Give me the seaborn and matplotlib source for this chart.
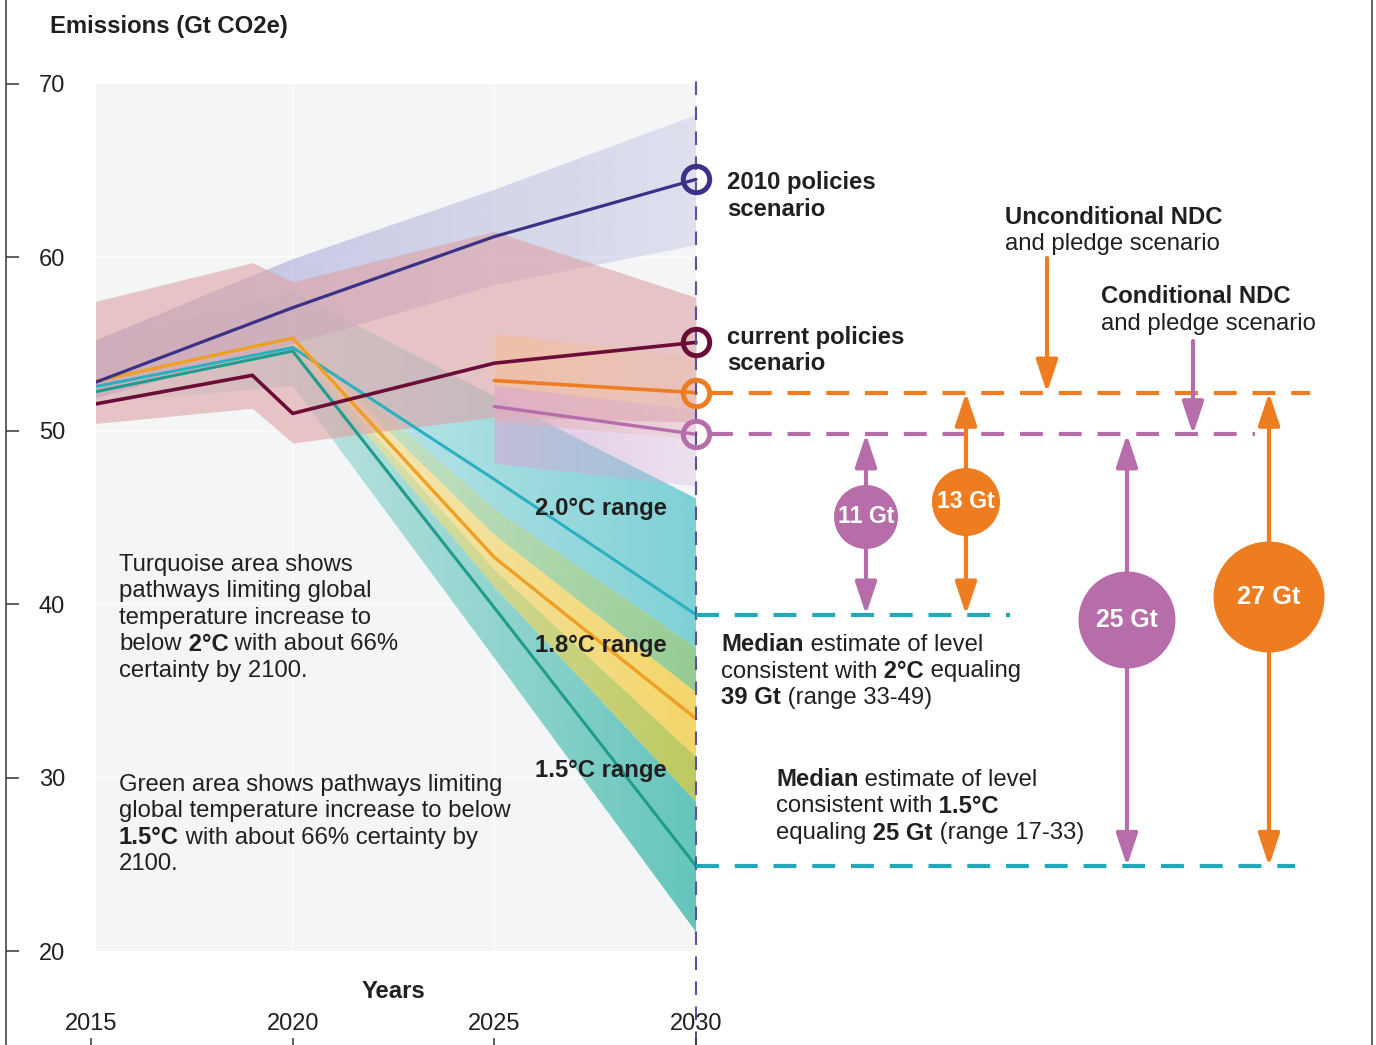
import numpy as np
import matplotlib
matplotlib.use("Agg")
import matplotlib.pyplot as plt
import seaborn as sns
from matplotlib import font_manager
from matplotlib.colors import to_rgb

# ---- data (Gt CO2e) ----
years = [2015, 2020, 2025, 2030]
policies_2010 = [52.7, 57.1, 61.2, 64.5]
policies_2010_lo = [51.8, 55.0, 58.4, 60.7]
policies_2010_hi = [55.1, 59.9, 63.9, 68.2]

current_years = [2015, 2019, 2020, 2025, 2030]
current_policies = [51.5, 53.2, 51.0, 53.9, 55.1]
current_lo = [50.4, 51.3, 49.3, 50.8, 50.5]
current_hi = [57.4, 59.7, 58.6, 61.5, 57.7]

ndc_years = [2025, 2030]
ndc_unconditional = [52.9, 52.2]
ndc_unconditional_lo = [50.5, 49.5]
ndc_unconditional_hi = [55.6, 54.2]
ndc_conditional = [51.4, 49.8]
ndc_conditional_lo = [48.1, 46.8]
ndc_conditional_hi = [52.6, 51.2]

median_2c = [52.5, 54.8, 47.2, 39.4]
median_18c = [52.8, 55.35, 42.7, 33.4]
median_15c = [52.2, 54.6, 39.8, 24.9]

# edges of the temperature ranges, top to bottom
edge_2c_top = [55.0, 58.0, 52.0, 46.1]
edge_2c_green = [53.2, 55.6, 45.5, 37.5]
edge_green_yellow = [53.0, 55.4, 44.0, 34.9]
edge_yellow_olive = [52.8, 55.1, 42.0, 31.2]
edge_olive_teal = [52.6, 54.9, 41.0, 28.6]
edge_15_bottom = [51.5, 52.6, 36.9, 21.1]

gap_labels = ["11 Gt", "13 Gt", "25 Gt", "27 Gt"]
gap_from = [ndc_conditional[-1], ndc_unconditional[-1], ndc_conditional[-1], ndc_unconditional[-1]]
gap_to = [median_2c[-1], median_2c[-1], median_15c[-1], median_15c[-1]]

yticks = [20, 30, 40, 50, 60, 70]
xticks = [2015, 2020, 2025, 2030]

# ---- colours ----
TXT = "#231f20"
C_NAVY = "#3b3288"
C_MAROON = "#6b0d38"
C_AMBER = "#eda024"
C_CYAN = "#2bb0c0"
C_TEAL = "#1f9c8c"
C_ORANGE = "#ee7d22"
C_PURPLE = "#b86dab"
C_DASH_TEAL = "#22a9b9"

sns.set_theme(style="white")
plt.rcParams["font.family"] = ["Liberation Sans", "DejaVu Sans"]

names = {f.name for f in font_manager.fontManager.ttflist}
NARROW = "Liberation Sans Narrow" if "Liberation Sans Narrow" in names else "Liberation Sans"
nscale = 1.0 if NARROW == "Liberation Sans Narrow" else 0.87

W, H = 1376, 1045


# pixel -> data helpers for layout of annotations
def px2x(px):
    return 2015 + (px - 91) / 40.333


def py2y(py):
    return 70 - (py - 84) / 17.34


fig = plt.figure(figsize=(W / 100, H / 100), dpi=100)
ax = fig.add_axes([6 / W, 0, (1372 - 6) / W, 1])

# plot background
ax.fill_between([px2x(96), 2030], 20, 70, color="#f3f5f7", lw=0, zorder=0)
ax.hlines([30, 40, 50, 60], px2x(96), 2030, color="#fbfcfd", lw=1.2, zorder=0.5)
ax.vlines([2020, 2025], 20, 70, color="#fbfcfd", lw=1.2, zorder=0.5)


def gradient_band(x, lo, hi, color, a0, a1, z):
    poly = ax.fill_between(x, lo, hi, facecolor="none", edgecolor="none", zorder=z)
    path = poly.get_paths()[0]
    img = np.zeros((2, 256, 4))
    img[..., :3] = to_rgb(color)
    img[..., 3] = np.linspace(a0, a1, 256)
    im = ax.imshow(img, extent=[min(x), max(x), min(lo), max(hi)], origin="lower",
                   aspect="auto", interpolation="bilinear", zorder=z)
    im.set_clip_path(path, ax.transData)


# temperature ranges
temp_edges = [edge_2c_top, edge_2c_green, edge_green_yellow, edge_yellow_olive,
              edge_olive_teal, edge_15_bottom]
temp_colors = ["#74ced3", "#8ec98a", "#f3d35c", "#b9c652", "#58c1b7"]
for top, bot, col in zip(temp_edges[:-1], temp_edges[1:], temp_colors):
    gradient_band(years, bot, top, col, 0.05, 0.92, 1)

# scenario ranges
gradient_band(years, policies_2010_lo, policies_2010_hi, "#aeb0da", 0.78, 0.3, 2)
ax.fill_between(current_years, current_lo, current_hi, color="#dea2a5", alpha=0.6, lw=0, zorder=2.2)
gradient_band(ndc_years, ndc_unconditional_lo, ndc_unconditional_hi, "#f4bf96", 0.6, 0.2, 2.4)
gradient_band(ndc_years, ndc_conditional_lo, ndc_conditional_hi, "#d6a6d6", 0.6, 0.25, 2.5)

# median lines
sns.lineplot(x=years, y=median_2c, color=C_CYAN, lw=2.2, ax=ax, zorder=4)
sns.lineplot(x=years, y=median_15c, color=C_TEAL, lw=2.2, ax=ax, zorder=4)
sns.lineplot(x=years, y=median_18c, color=C_AMBER, lw=2.4, ax=ax, zorder=4.2)

# scenario lines
sns.lineplot(x=years, y=policies_2010, color=C_NAVY, lw=2.3, ax=ax, zorder=5)
sns.lineplot(x=current_years, y=current_policies, color=C_MAROON, lw=2.6, ax=ax, zorder=5)
sns.lineplot(x=ndc_years, y=ndc_unconditional, color=C_ORANGE, lw=2.6, ax=ax, zorder=5)
sns.lineplot(x=ndc_years, y=ndc_conditional, color=C_PURPLE, lw=2.4, ax=ax, zorder=5)

# keep the left margin clean (plot area starts a little right of 2015)
ax.axvspan(px2x(0), px2x(96), color="white", lw=0, zorder=6.5)

# 2030 marker line
ax.vlines(2030, py2y(1045), py2y(80), color="#5b5394", lw=1.5,
          linestyles=(0, (6.5, 5.5)), zorder=6)

# scenario end rings
for vals, col in [(policies_2010, C_NAVY), (current_policies, C_MAROON),
                  (ndc_unconditional, C_ORANGE), (ndc_conditional, C_PURPLE)]:
    ax.plot([2030], [vals[-1]], "o", ms=19, mfc="none", mec=col, mew=3.6, zorder=7)

# dashed reference levels
dash = (0, (5.5, 3.8))
ax.hlines(ndc_unconditional[-1], 2030.35, px2x(1310), color=C_ORANGE, lw=3, linestyles=dash, zorder=6)
ax.hlines(ndc_conditional[-1], 2030.35, px2x(1255), color=C_PURPLE, lw=3, linestyles=dash, zorder=6)
ax.hlines(median_2c[-1], 2030, px2x(1010), color=C_DASH_TEAL, lw=3, linestyles=dash, zorder=6)
ax.hlines(median_15c[-1], 2030, px2x(1295), color=C_DASH_TEAL, lw=3, linestyles=dash, zorder=6)

# scenario pointer arrows
single = "-|>,head_length=0.9,head_width=0.3"
double = "<|-|>,head_length=0.9,head_width=0.3"
ax.annotate("", xy=(px2x(1047), ndc_unconditional[-1]), xytext=(px2x(1047), py2y(258)),
            arrowprops=dict(arrowstyle=single, color=C_ORANGE, lw=3, mutation_scale=22,
                            shrinkA=0, shrinkB=0), zorder=8)
ax.annotate("", xy=(px2x(1193), ndc_conditional[-1]), xytext=(px2x(1193), py2y(341)),
            arrowprops=dict(arrowstyle=single, color=C_PURPLE, lw=3, mutation_scale=22,
                            shrinkA=0, shrinkB=0), zorder=8)

# emission gaps
gap_x_px = [866, 966, 1127, 1269]
gap_circle_py = [517, 502, 620, 597]
gap_diam_px = [64, 68, 97, 111]
gap_fs = [19, 19, 20.5, 21]
gap_cols = [C_PURPLE, C_ORANGE, C_PURPLE, C_ORANGE]
for lab, y0, y1, xp, cp, d, fs, col in zip(gap_labels, gap_from, gap_to, gap_x_px,
                                           gap_circle_py, gap_diam_px, gap_fs, gap_cols):
    gx = px2x(xp)
    ax.annotate("", xy=(gx, y1), xytext=(gx, y0),
                arrowprops=dict(arrowstyle=double, color=col, lw=3, mutation_scale=22,
                                shrinkA=0, shrinkB=0), zorder=8)
    sns.scatterplot(x=[gx], y=[py2y(cp)], s=(d * 0.72) ** 2, color=col, edgecolor="none",
                    ax=ax, zorder=9, legend=False)
    ax.text(gx, py2y(cp), lab, color="white", fontsize=fs * nscale, fontweight="bold",
            family=NARROW, ha="center", va="center", zorder=10)


# ---- text ----
def rich_line(x, y, parts, size=17.2):
    prev = None
    for s, bold in parts:
        w = "bold" if bold else "normal"
        if prev is None:
            prev = ax.text(x, y, s, fontsize=size, fontweight=w, color=TXT,
                           ha="left", va="center", zorder=10)
        else:
            prev = ax.annotate(s, xy=(1, 0.5), xycoords=prev, fontsize=size, fontweight=w,
                               color=TXT, ha="left", va="center", zorder=10)


def paragraph(x_px, first_py, lines, step=26.5):
    for i, parts in enumerate(lines):
        rich_line(px2x(x_px), py2y(first_py + 2 + i * step), parts)


B, R = True, False
paragraph(727, 180, [[("2010 policies", B)], [("scenario", B)]], step=27)
paragraph(727, 336, [[("current policies", B)], [("scenario", B)]], step=26)
paragraph(1005, 215, [[("Unconditional NDC", B)], [("and pledge scenario", R)]], step=27)
paragraph(1101, 295, [[("Conditional NDC", B)], [("and pledge scenario", R)]], step=27)
paragraph(119, 563, [[("Turquoise area shows", R)],
                     [("pathways limiting global", R)],
                     [("temperature increase to", R)],
                     [("below", R), (" 2°C", B), (" with about 66%", R)],
                     [("certainty by 2100.", R)]])
paragraph(119, 783, [[("Green area shows pathways limiting", R)],
                     [("global temperature increase to below", R)],
                     [("1.5°C", B), (" with about 66% certainty by", R)],
                     [("2100.", R)]])
paragraph(721, 643, [[("Median", B), (" estimate of level", R)],
                     [("consistent with", R), (" 2°C", B), (" equaling", R)],
                     [("39 Gt", B), (" (range 33-49)", R)]], step=26.5)
paragraph(776, 778, [[("Median", B), (" estimate of level", R)],
                     [("consistent with", R), (" 1.5°C", B)],
                     [("equaling", R), (" 25 Gt", B), (" (range 17-33)", R)]], step=26.5)

for lab, py in [("2.0°C range", 507), ("1.8°C range", 644), ("1.5°C range", 768)]:
    ax.text(px2x(667), py2y(py + 2), lab, fontsize=17.2, fontweight="bold", color=TXT,
            ha="right", va="center", zorder=10)

ax.text(px2x(50), py2y(26), "Emissions (Gt CO2e)", fontsize=17.2, fontweight="bold",
        color=TXT, ha="left", va="center", zorder=10)
ax.text(px2x(393), py2y(992), "Years", fontsize=17.2, fontweight="bold", color=TXT,
        ha="center", va="center", zorder=10)

# ---- axes ----
for s in ["top", "bottom"]:
    ax.spines[s].set_visible(False)
for s in ["left", "right"]:
    ax.spines[s].set_color("#555555")
    ax.spines[s].set_linewidth(1.3)
    ax.spines[s].set_zorder(20)
ax.xaxis.set_zorder(20)
ax.yaxis.set_zorder(20)

ax.set_yticks(yticks)
ax.set_yticklabels([str(v) for v in yticks])
ax.set_xticks(xticks)
ax.set_xticklabels([str(v) for v in xticks])
ax.tick_params(axis="y", direction="in", length=9, width=1.1, color="#333333", pad=-42.5,
               labelsize=17, labelcolor=TXT, left=True, right=False)
ax.tick_params(axis="x", direction="in", length=5, width=1.1, color="#333333", pad=-23,
               labelsize=17, labelcolor=TXT, bottom=True, top=False)
ax.set_xlabel("")
ax.set_ylabel("")

ax.set_xlim(px2x(6), px2x(1372))
ax.set_ylim(py2y(1045), py2y(0))

fig.savefig("out.png", dpi=100)
